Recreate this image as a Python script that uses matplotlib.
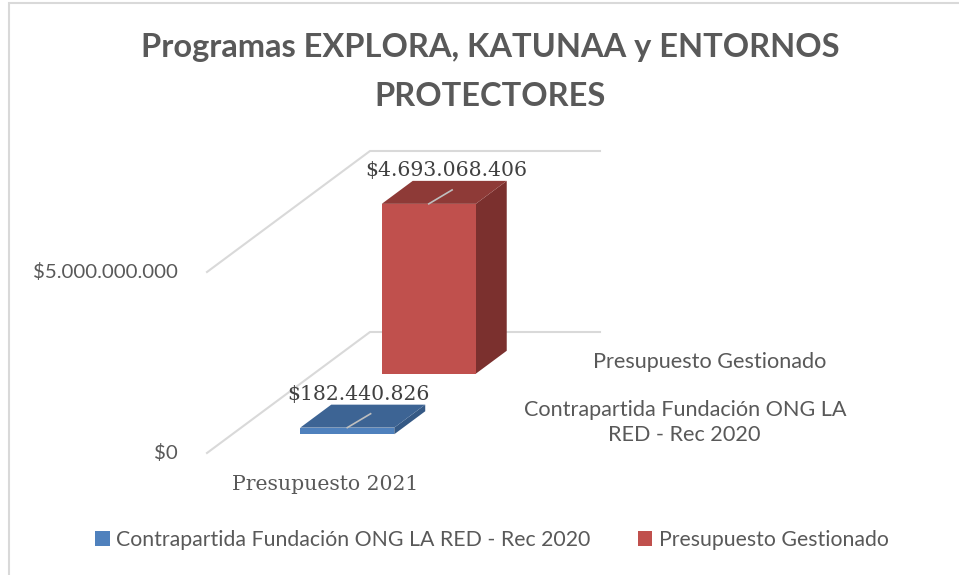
import matplotlib.pyplot as plt
from matplotlib.patches import Polygon, Patch, Rectangle

# Datos
categorias = ['Presupuesto 2021']
series = ['Contrapartida Fundación ONG LA RED - Rec 2020', 'Presupuesto Gestionado']
series_etq = ['Contrapartida Fundación ONG LA\nRED - Rec 2020', 'Presupuesto Gestionado']
valores = [182440826, 4693068406]
ticks = [0, 5000000000]
tick_labels = ['$0', '$5.000.000.000']
colores = ['#4F81BD', '#C0504D']
colores_top = ['#3D6494', '#8E3A37']
colores_lado = ['#355985', '#7B302E']

gris = '#595959'
sans = ['Lato', 'DejaVu Sans']
serif = ['DejaVu Serif']

W, H = 959, 575
fig = plt.figure(figsize=(W / 100, H / 100), dpi=100)
ax = fig.add_axes([0, 0, 1, 1])
ax.axis('off')

# escala: ancho de categoria 230 px, 5e9 -> 181 px
px_u = 230.0
px_v = 181.0 / 5e9
x0, y0 = 207, 453
ax.set_xlim(-x0 / px_u, (W - x0) / px_u)
ax.set_ylim(-(H - y0) / px_v, y0 / px_v)

# desplazamiento oblicuo por profundidad completa
ddx = 163 / px_u
ddy = 121 / px_v


def proj(u, v, z):
    return (u + ddx * z, v + ddy * z)


# lineas de cuadricula (pared izquierda y fondo)
for t, lab in zip(ticks, tick_labels):
    xs, ys = zip(proj(0, t, 0), proj(0, t, 1), proj(1, t, 1))
    ax.plot(xs, ys, color='#D9D9D9', lw=1.5, zorder=1)
    ax.annotate(lab, proj(0, t, 0), xytext=(-29, 0), textcoords='offset pixels',
                ha='right', va='center', fontsize=14.7, color=gris, family=sans)

# barras
ancho = 94 / px_u
prof = 0.19
for i, (val, nombre) in enumerate(zip(valores, series)):
    zc = (i + 0.5) / len(series)
    zf, zb = zc - prof / 2, zc + prof / 2
    u0, u1 = 0.5 - ancho / 2, 0.5 + ancho / 2
    frente = [proj(u0, 0, zf), proj(u1, 0, zf), proj(u1, val, zf), proj(u0, val, zf)]
    arriba = [proj(u0, val, zf), proj(u1, val, zf), proj(u1, val, zb), proj(u0, val, zb)]
    lado = [proj(u1, 0, zf), proj(u1, 0, zb), proj(u1, val, zb), proj(u1, val, zf)]
    z = 3 + (len(series) - i)
    ax.add_patch(Polygon(lado, closed=True, fc=colores_lado[i], ec='none', zorder=z))
    ax.add_patch(Polygon(arriba, closed=True, fc=colores_top[i], ec='none', zorder=z))
    ax.add_patch(Polygon(frente, closed=True, fc=colores[i], ec='none', zorder=z))

    # etiqueta de datos con linea guia
    p1 = proj(0.5, val, zf)
    p2 = proj(0.5 + 0.02, val, zc + 0.02)
    ax.plot([p1[0], p2[0]], [p1[1], p2[1]], color='#BFBFBF', lw=1.2, zorder=10)
    ax.annotate('${:,}'.format(val).replace(',', '.'), p2, xytext=(-6 - 6 * (1 - i), 19),
                textcoords='offset pixels', ha='center', va='center',
                fontsize=14.7, color='#404040', family=serif, zorder=11)

    # etiqueta del eje de profundidad
    ax.annotate(series_etq[i], proj(1, 0, zc), xytext=(150 + 57 * (1 - i), 0),
                textcoords='offset pixels', ha='center', va='center',
                multialignment='center', fontsize=15.6, color=gris,
                family=sans, linespacing=1.3)

# etiqueta de categoria
for k, cat in enumerate(categorias):
    ax.annotate(cat, proj(k + 0.5, 0, 0), xytext=(3, -31), textcoords='offset pixels',
                ha='center', va='center', fontsize=14.7, color=gris, family=serif)

fig.text(0.511, 1 - 72 / H, 'Programas EXPLORA, KATUNAA y ENTORNOS\nPROTECTORES',
         ha='center', va='center', fontsize=23.5, fontweight='bold', color=gris,
         family=sans, linespacing=1.85)

handles = [Patch(fc=c, ec='none') for c in colores]
fig.legend(handles, series, loc='center', bbox_to_anchor=(0.513, 1 - 540 / H),
           ncol=2, frameon=False, handlelength=0.7, handleheight=0.7,
           handletextpad=0.3, columnspacing=2.2,
           prop={'family': sans, 'size': 15.3}, labelcolor=gris)

fig.patches.append(Rectangle((9 / W, -0.1), 1.2, 1 - 3 / H + 0.1, transform=fig.transFigure,
                             fill=False, ec='#D9D9D9', lw=1.5))

fig.savefig('out.png', dpi=100, facecolor='white')
